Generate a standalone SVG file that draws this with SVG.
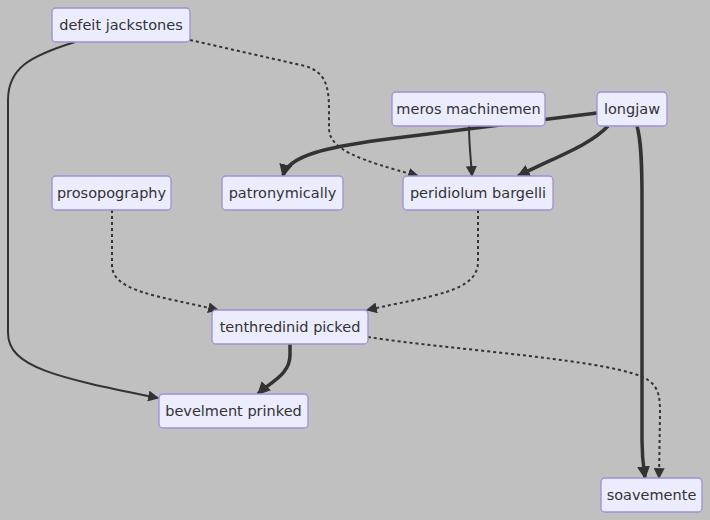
<svg xmlns="http://www.w3.org/2000/svg" width="710" height="520" viewBox="0 0 710 520">
<defs>
<style>
.node rect{fill:#ececff;stroke:#a08fd6;stroke-width:1.3}
.node text{font-family:"DejaVu Sans","Liberation Sans",sans-serif;font-size:14.5px;fill:#333;text-anchor:middle;dominant-baseline:central}
.e{fill:none;stroke:#333;stroke-linecap:butt}
.n{stroke-width:2;marker-end:url(#an)}
.t{stroke-width:3.5;marker-end:url(#at)}
.d{stroke-width:2;stroke-dasharray:3 3;marker-end:url(#an)}
</style>
<marker id="an" viewBox="0 0 10 10" refX="9" refY="5" markerUnits="userSpaceOnUse" markerWidth="11" markerHeight="11" orient="auto"><path d="M0,0L10,5L0,10z" fill="#333"/></marker>
<marker id="at" viewBox="0 0 10 10" refX="9" refY="5" markerUnits="userSpaceOnUse" markerWidth="13" markerHeight="13" orient="auto"><path d="M0,0L10,5L0,10z" fill="#333"/></marker>
</defs>
<rect width="710" height="520" fill="#c0c0c0"/>
<g id="edges">
<path class="e n" d="M75,42 C30,56 8,68 8,100 L8,333 C8,368 60,378 158,398"/>
<path class="e d" d="M190,40 L305,66 C325,72 329,85 329,110 L329,128 C329,150 360,160 418,176"/>
<path class="e n" d="M469,126 C469,145 471,160 472,176"/>
<path class="e t" d="M597,113 L380,140 C330,147 288,155 283,176"/>
<path class="e t" d="M608,126 C590,145 560,155 518,176"/>
<path class="e t" d="M637,126 C641,140 642,160 642,200 L642,440 C642,460 644,470 645,478"/>
<path class="e d" d="M112,210 L112,265 C112,292 160,296 218,310"/>
<path class="e d" d="M478,210 L478,262 C478,292 430,296 367,310"/>
<path class="e t" d="M290,344 L290,355 C290,375 270,382 258,394"/>
<path class="e d" d="M368,337 C450,350 620,360 648,380 C660,388 660,400 660,415 L659,478"/>
</g>
<g id="defeit" class="node"><rect x="52" y="8" width="138" height="34" rx="4"/><text x="121" y="25">defeit jackstones</text></g>
<g id="meros" class="node"><rect x="392" y="92" width="153" height="34" rx="4"/><text x="468.5" y="109">meros machinemen</text></g>
<g id="longjaw" class="node"><rect x="597" y="92" width="70" height="34" rx="4"/><text x="632" y="109">longjaw</text></g>
<g id="prosopography" class="node"><rect x="52" y="176" width="119" height="34" rx="4"/><text x="111.5" y="193">prosopography</text></g>
<g id="patronymically" class="node"><rect x="222" y="176" width="121" height="34" rx="4"/><text x="282.5" y="193">patronymically</text></g>
<g id="peridiolum" class="node"><rect x="403" y="176" width="150" height="34" rx="4"/><text x="478" y="193">peridiolum bargelli</text></g>
<g id="tenthredinid" class="node"><rect x="212" y="310" width="156" height="34" rx="4"/><text x="290" y="327">tenthredinid picked</text></g>
<g id="bevelment" class="node"><rect x="159" y="394" width="149" height="34" rx="4"/><text x="233.5" y="411">bevelment prinked</text></g>
<g id="soavemente" class="node"><rect x="601" y="478" width="101" height="34" rx="4"/><text x="651.5" y="495">soavemente</text></g>
</svg>
